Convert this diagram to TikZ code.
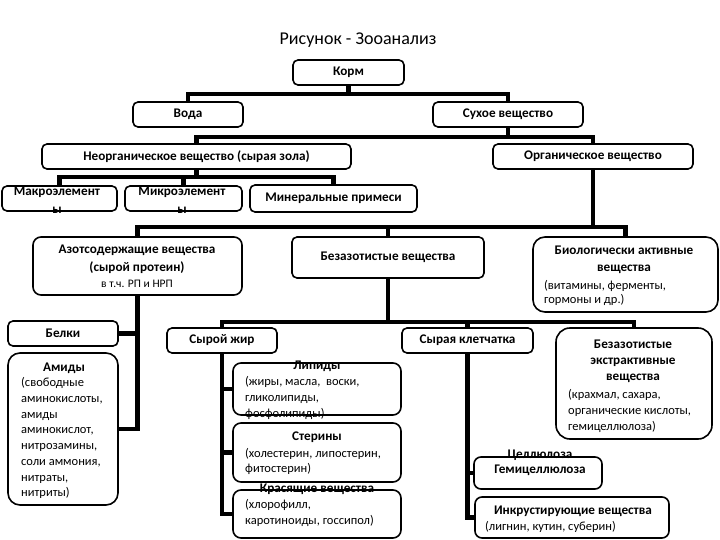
\documentclass[tikz,border=0pt]{standalone}
\usepackage{fontspec}
\setmainfont{Carlito}
\newcommand\fb{\fontsize{13.2}{15}\selectfont\bfseries}
\newcommand\fr{\fontsize{12.5}{15.7}\selectfont}
\begin{document}
\begin{tikzpicture}[x=1pt,y=-1pt,
  box/.style={draw, line width=1.6pt, rounded corners=5pt, inner sep=0pt, font=\fb},
  bigbox/.style={box, rounded corners=12pt},
  conn/.style={line width=4.5pt, line join=miter},
  tb/.style={inner sep=0pt, font=\fb, align=center},
  tr/.style={inner sep=0pt, font=\fr, align=left, anchor=north west}]
\useasboundingbox (0,0) rectangle (720,540);
\node[inner sep=0pt, font=\fontsize{18}{20}\selectfont] (title) at (358,40) {Рисунок - Зооанализ};
% level boxes
\node[box, minimum width=111pt, minimum height=25pt] (korm) at (348.5,72.5) {Корм};
\node[box, minimum width=110pt, minimum height=25pt] (voda) at (188,114.5) {Вода};
\node[box, minimum width=150pt, minimum height=25pt] (suhoe) at (508,114.5) {Сухое вещество};
\node[box, minimum width=309pt, minimum height=25pt] (neorg) at (196.5,156.5) {Неорганическое вещество (сырая зола)};
\node[box, minimum width=200pt, minimum height=25pt] (org) at (593,156.5) {Органическое вещество};
\node[box, minimum width=115pt, minimum height=25pt] (makro) at (59.5,198.5) {};
\node[box, minimum width=117pt, minimum height=25pt] (mikro) at (183.5,198.5) {};
\node[box, minimum width=167pt, minimum height=27pt] (miner) at (333.5,198.5) {Минеральные примеси};
\node[tb] (makroT) at (57,192) {Макроэлемент};
\node[tb] (makroT2) at (57,210) {ы};
\node[tb] (mikroT) at (182,192) {Микроэлемент};
\node[tb] (mikroT2) at (182,210) {ы};
\node[box, rounded corners=8pt, minimum width=209pt, minimum height=58pt] (azot) at (137.5,266) {};
\node[tb, font=\fontsize{13.2}{18}\selectfont\bfseries] (azotT) at (137,259) {Азотсодержащие вещества\\(сырой протеин)};
\node[inner sep=0pt, font=\fontsize{11.5}{13}\selectfont] (azotT2) at (137,284) {в т.ч. РП и НРП};
\node[box, minimum width=192pt, minimum height=41pt] (bezaz) at (388,257.5) {Безазотистые вещества};
\node[bigbox, minimum width=185pt, minimum height=75pt] (bio) at (625.5,274.5) {};
\node[tb, font=\fontsize{13.2}{17}\selectfont\bfseries] (bioT) at (624,259.5) {Биологически активные\\вещества};
\node[tr, font=\fontsize{12.5}{14}\selectfont] (bioT2) at (544,280.5) {(витамины, ферменты,\\гормоны и др.)};
% protein branch
\node[box, minimum width=110pt, minimum height=25pt] (belki) at (63,333.5) {Белки};
\node[bigbox, minimum width=110pt, minimum height=152pt] (amidy) at (63,429) {};
\node[tb] (amidyT) at (64,368) {Амиды};
\node[tr] (amidyT2) at (21,377.5) {(свободные\\аминокислоты,\\амиды\\аминокислот,\\нитрозамины,\\соли аммония,\\нитраты,\\нитриты)};
% nitrogen-free branch
\node[box, minimum width=110pt, minimum height=25pt] (zhir) at (222,340.5) {Сырой жир};
\node[box, minimum width=131pt, minimum height=25pt] (kletch) at (467.5,340.5) {Сырая клетчатка};
\node[box, rounded corners=14pt, minimum width=156pt, minimum height=111pt] (bev) at (634,383.5) {};
\node[tb, font=\fontsize{13.2}{16}\selectfont\bfseries] (bevT) at (633,361) {Безазотистые\\экстрактивные\\вещества};
\node[tr, font=\fontsize{12.5}{16}\selectfont] (bevT2) at (568,389.5) {(крахмал, сахара,\\органические кислоты,\\гемицеллюлоза)};
\node[box, rounded corners=8pt, minimum width=168pt, minimum height=52pt] (lipid) at (317,389) {};
\node[tb] (lipidT) at (317,366) {Липиды};
\node[tr, font=\fontsize{12.5}{16}\selectfont] (lipidT2) at (245,376.5) {(жиры, масла,\ \ воски,\\гликолипиды,\\фосфолипиды)};
\node[box, rounded corners=8pt, minimum width=168pt, minimum height=59pt] (sterin) at (317,452.5) {};
\node[tb] (sterinT) at (317,437) {Стерины};
\node[tr, font=\fontsize{12.5}{15}\selectfont] (sterinT2) at (245,448.5) {(холестерин, липостерин,\\фитостерин)};
\node[box, rounded corners=8pt, minimum width=168pt, minimum height=48pt] (krasi) at (317,514) {};
\node[tb] (krasiT) at (317,489) {Красящие вещества};
\node[tr, font=\fontsize{12.5}{16}\selectfont] (krasiT2) at (245,499.5) {(хлорофилл,\\каротиноиды, госсипол)};
\node[box, rounded corners=7pt, minimum width=128pt, minimum height=32pt] (cell) at (538,473) {};
\node[tb] (cellT) at (540,455) {Целлюлоза};
\node[tb] (cellT2) at (540,470) {Гемицеллюлоза};
\node[box, rounded corners=7pt, minimum width=194pt, minimum height=41pt] (inkr) at (572,517.5) {};
\node[tb] (inkrT) at (573,511) {Инкрустирующие вещества};
\node[inner sep=0pt, font=\fr, anchor=west] (inkrT2) at (485,527) {(лигнин, кутин, суберин)};
% bar levels
\coordinate (b1) at (0,94);
\coordinate (b2) at (0,137);
\coordinate (b3) at (0,177);
\coordinate (b4) at (0,227);
\coordinate (b5) at (0,322);
% connectors
\draw[conn] (korm.south) -- (korm.south |- b1);
\draw[conn] (voda.north) |- (suhoe.north |- b1) -- (suhoe.north);
\draw[conn] (suhoe.south) -- (suhoe.south |- b2);
\draw[conn] (neorg.north) |- (org.north |- b2) -- (org.north);
\draw[conn] (neorg.south) -- (neorg.south |- b3);
\draw[conn] (makro.north) |- (miner.north |- b3) -- (miner.north);
\draw[conn] (mikro.north) -- (mikro.north |- b3);
\draw[conn] (org.south) -- (org.south |- b4);
\draw[conn] (azot.north) |- (bio.north |- b4) -- (bio.north);
\draw[conn] (bezaz.north) -- (bezaz.north |- b4);
\draw[conn] (azot.south) |- (amidy.east);
\draw[conn] (belki.east) -- (belki.east -| azot.south);
\draw[conn] (bezaz.south) -- (bezaz.south |- b5);
\draw[conn] (zhir.north) |- (bev.north |- b5) -- (bev.north);
\draw[conn] (kletch.north) -- (kletch.north |- b5);
\draw[conn] (zhir.south) |- (krasi.west);
\draw[conn] (lipid.west) -- (lipid.west -| zhir.south);
\draw[conn] (sterin.west) -- (sterin.west -| zhir.south);
\draw[conn] (kletch.south) |- (inkr.west);
\draw[conn] (cell.west) -- (cell.west -| kletch.south);
\end{tikzpicture}
\end{document}
